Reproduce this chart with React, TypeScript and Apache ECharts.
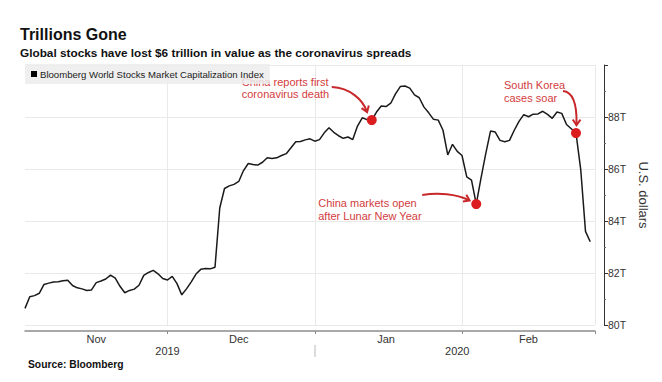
import React, { useEffect, useRef } from 'react';
import * as echarts from 'echarts';

// ---------- data ----------
const SERIES_NAME = 'Bloomberg World Stocks Market Capitalization Index';
const FIRST_DATE = '2019-11-01';
const DAY_COUNT = 121; // Nov 1, 2019 .. Feb 29, 2020 (calendar days)

// Market cap, trillions of US$, one value per calendar day
const novValues = [
  80.64, 81.09, 81.13, 81.22, 81.56, 81.61, 81.65, 81.66, 81.7, 81.72,
  81.52, 81.43, 81.39, 81.33, 81.35, 81.63, 81.69, 81.77, 81.92, 81.8,
  81.49, 81.24, 81.33, 81.38, 81.53, 81.91, 82.02, 82.1, 81.97, 81.79,
];
const decValues = [
  81.73, 81.87, 81.59, 81.16, 81.39, 81.66, 81.96, 82.14, 82.17, 82.16,
  82.22, 84.5, 85.25, 85.35, 85.41, 85.52, 85.94, 86.21, 86.17, 86.15,
  86.26, 86.43, 86.4, 86.43, 86.52, 86.59, 86.82, 87.05, 87.06, 87.12,
  87.16,
];
const janValues = [
  87.07, 87.13, 87.39, 87.59, 87.41, 87.28, 87.18, 87.23, 87.13, 87.65,
  87.97, 87.9, 87.88, 88.19, 88.42, 88.4, 88.53, 88.89, 89.17, 89.19,
  89.11, 88.85, 88.74, 88.38, 88.16, 87.91, 87.88, 87.49, 86.54, 86.95,
  86.68,
];
const febValues = [
  86.52, 85.7, 85.57, 84.65, 85.65, 86.59, 87.46, 87.42, 87.1, 87.05,
  87.1, 87.49, 87.83, 88.09, 88.01, 88.11, 88.12, 88.22, 88.1, 87.95,
  88.19, 88.14, 87.71, 87.55, 87.38, 85.97, 83.6, 83.2,
];

const MONTH_NAMES = ['Jan', 'Feb', 'Mar', 'Apr', 'May', 'Jun', 'Jul', 'Aug', 'Sep', 'Oct', 'Nov', 'Dec'];
const monthBoundaryDates = ['2019-12-01', '2020-01-01', '2020-02-01', '2020-02-29'];
const monthLabelDates = ['2019-11-16', '2019-12-16', '2020-01-16', '2020-02-15'];
const yearLabelDates = ['2019-12-01', '2020-01-31'];
const yearSeparatorDates = ['2020-01-01'];
const Y_MIN = 80;
const Y_MAX = 90;
const Y_STEP = 2;

const eventDates = ['2020-01-13', '2020-02-04', '2020-02-25'];
const eventTexts = [
  'China reports first\ncoronavirus death',
  'China markets open\nafter Lunar New Year',
  'South Korea\ncases soar',
];

// ---------- layout / style ----------
const FONT = '"Liberation Sans", Arial, sans-serif';
const RED_DOT = '#dc1d20';
const RED_TEXT = '#d23c3e';
const RED_ARROW = '#c9282b';

// offsets relative to each event dot (pixels)
const annLayout = [
  { text: [-130, -32], lh: 12, curve: [[-40, -33], [-21, -32], [-9, -20], [-5, -9]] },
  { text: [-158, 5.5], lh: 13, curve: [[-54, -9], [-38, -12], [-20, -10], [-7.5, -4]] },
  { text: [-72, -41.5], lh: 13, curve: [[-13, -42], [-3, -41], [1, -28], [0.5, -9]] },
];

function buildDates(): string[] {
  const [y, m, d] = FIRST_DATE.split('-').map(Number);
  const out: string[] = [];
  for (let i = 0; i < DAY_COUNT; i++) {
    const dt = new Date(Date.UTC(y, m - 1, d + i));
    out.push(dt.toISOString().slice(0, 10));
  }
  return out;
}

export default function App() {
  const ref = useRef<HTMLDivElement>(null);

  useEffect(() => {
    document.body.style.margin = '0';
    const chart = echarts.init(ref.current!, null, { renderer: 'svg' });
    const dates = buildDates();
    const values = [...novValues, ...decValues, ...janValues, ...febValues];
    const idxOf = (d: string) => dates.indexOf(d);
    const boundarySet = new Set(monthBoundaryDates.map(idxOf));
    const monthLabelSet = new Set(monthLabelDates.map(idxOf));
    const yearLabelSet = new Set(yearLabelDates.map(idxOf));
    const sepSet = new Set(yearSeparatorDates.map(idxOf));

    chart.setOption({
      animation: false,
      textStyle: { fontFamily: FONT },
      title: [
        {
          text: 'Trillions Gone', left: 20, top: 26, padding: 0,
          textStyle: { fontSize: 16, fontWeight: 'bold', color: '#111', fontFamily: FONT },
        },
        {
          text: 'Global stocks have lost $6 trillion in value as the coronavirus spreads',
          left: 20, top: 47, padding: 0,
          textStyle: { fontSize: 11.8, fontWeight: 'bold', color: '#111', fontFamily: FONT },
        },
        {
          text: 'Source: Bloomberg', left: 28, top: 359, padding: 0,
          textStyle: { fontSize: 10.3, fontWeight: 'bold', color: '#111', fontFamily: FONT },
        },
      ],
      legend: {
        data: [{ name: SERIES_NAME, icon: 'rect' }],
        left: 25, top: 64,
        itemWidth: 6, itemHeight: 6,
        padding: [5, 6, 5, 6],
        backgroundColor: 'rgba(236,236,236,0.85)',
        selectedMode: false,
        textStyle: { fontSize: 9.6, color: '#222', fontFamily: FONT, padding: [0, 0, 0, -2] },
      },
      grid: { left: 25, right: 67, top: 65, bottom: 57 },
      xAxis: [
        {
          type: 'category', data: dates, boundaryGap: false, offset: 6,
          axisLine: { lineStyle: { color: '#8c8c8c', width: 1.5 } },
          axisTick: { show: true, interval: (i: number) => boundarySet.has(i), length: 3, lineStyle: { color: '#8c8c8c' } },
          axisLabel: {
            interval: (i: number) => monthLabelSet.has(i),
            formatter: (v: string) => MONTH_NAMES[Number(v.slice(5, 7)) - 1],
            color: '#333', fontSize: 11, margin: 2, fontFamily: FONT,
          },
          splitLine: { show: true, interval: (i: number) => boundarySet.has(i), lineStyle: { color: '#e9e9e9', width: 1 } },
        },
        {
          type: 'category', data: dates, boundaryGap: false, offset: 20, position: 'bottom',
          axisLine: { show: false },
          axisTick: { show: true, interval: (i: number) => sepSet.has(i), length: 12, lineStyle: { color: '#cfcfcf', width: 1.5 } },
          axisLabel: {
            interval: (i: number) => yearLabelSet.has(i),
            formatter: (v: string) => v.slice(0, 4),
            color: '#333', fontSize: 11, margin: 0, fontFamily: FONT,
          },
          splitLine: { show: false },
        },
      ],
      yAxis: {
        type: 'value', position: 'right', offset: 9,
        min: Y_MIN, max: Y_MAX, interval: Y_STEP,
        axisLine: { show: true, lineStyle: { color: '#333', width: 1 } },
        axisTick: { show: true, length: 4, lineStyle: { color: '#333' } },
        minorTick: { show: true, splitNumber: 2, length: 2, lineStyle: { color: '#666' } },
        axisLabel: {
          formatter: (v: number) => (v === Y_MAX ? '' : v + 'T'),
          color: '#333', fontSize: 10.5, margin: 4, fontFamily: FONT,
        },
        splitLine: { show: true, lineStyle: { color: '#e9e9e9', width: 1 } },
        name: 'U.S. dollars', nameLocation: 'middle', nameRotate: -90, nameGap: 28,
        nameTextStyle: { fontSize: 13, color: '#333', fontFamily: FONT },
      },
      series: [
        {
          name: SERIES_NAME, type: 'line', data: values,
          symbol: 'none', showSymbol: false,
          lineStyle: { color: '#1a1a1a', width: 1.5 },
          itemStyle: { color: '#000' },
          z: 3,
        },
        {
          name: 'events', type: 'scatter',
          data: eventDates.map((d) => [idxOf(d), values[idxOf(d)]]),
          symbolSize: 10, itemStyle: { color: RED_DOT, opacity: 1 },
          z: 5,
        },
      ],
    });

    const graphics: any[] = [];
    eventDates.forEach((d, k) => {
      const i = idxOf(d);
      const p = chart.convertToPixel({ xAxisIndex: 0, yAxisIndex: 0 }, [i, values[i]]) as number[];
      const L = annLayout[k];
      const [s, c1, c2, e] = L.curve.map(([dx, dy]) => [p[0] + dx, p[1] + dy]);
      graphics.push({
        type: 'text', x: p[0] + L.text[0], y: p[1] + L.text[1], z: 1,
        style: {
          text: eventTexts[k], fill: RED_TEXT, fontSize: 11, fontFamily: FONT,
          align: 'left', verticalAlign: 'middle', lineHeight: L.lh,
        },
      });
      graphics.push({
        type: 'bezierCurve', z: 1,
        shape: { x1: s[0], y1: s[1], cpx1: c1[0], cpy1: c1[1], cpx2: c2[0], cpy2: c2[1], x2: e[0], y2: e[1] },
        style: { stroke: RED_ARROW, lineWidth: 2, fill: 'none' },
      });
      const dx = e[0] - c2[0];
      const dy = e[1] - c2[1];
      const n = Math.hypot(dx, dy) || 1;
      const ux = dx / n, uy = dy / n;
      const a = (40 * Math.PI) / 180;
      const len = 6;
      const arm = (sgn: number) => {
        const ca = Math.cos(sgn * a), sa = Math.sin(sgn * a);
        const rx = ux * ca - uy * sa, ry = ux * sa + uy * ca;
        return [e[0] - rx * len, e[1] - ry * len];
      };
      graphics.push({
        type: 'polyline', z: 1,
        shape: { points: [arm(1), [e[0] + ux * 1, e[1] + uy * 1], arm(-1)] },
        style: { stroke: RED_ARROW, lineWidth: 2, fill: 'none', lineJoin: 'miter' },
      });
    });
    chart.setOption({ graphic: graphics });

    return () => chart.dispose();
  }, []);

  return <div ref={ref} style={{ width: 662, height: 382 }} />;
}
